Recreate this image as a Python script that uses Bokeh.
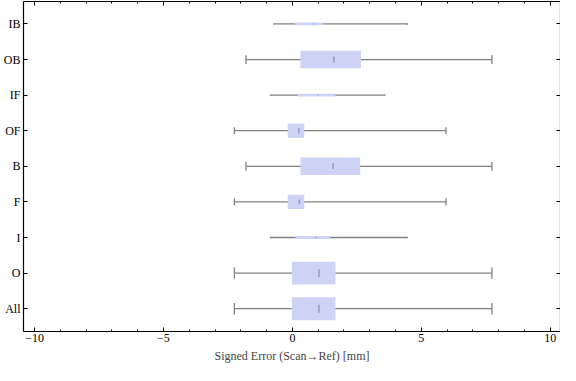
from bokeh.plotting import figure
from bokeh.models import Range1d, FixedTicker, LinearAxis, ColumnDataSource, CustomLabelingPolicy
from bokeh.embed import file_html
from bokeh.resources import INLINE

# ---- data (bottom to top) ----
categories = ["All", "O", "I", "F", "B", "OF", "IF", "OB", "IB"]
whisker_lo = [-2.25, -2.25, -0.85, -2.25, -1.80, -2.25, -0.85, -1.80, -0.71]
q1 =         [-0.02, -0.02, 0.12, -0.18, 0.31, -0.18, 0.20, 0.31, 0.10]
median =     [1.03, 1.03, 0.92, 0.27, 1.58, 0.25, 1.00, 1.61, 0.83]
q3 =         [1.67, 1.67, 1.47, 0.46, 2.63, 0.46, 1.67, 2.66, 1.20]
whisker_hi = [7.74, 7.74, 4.45, 5.96, 7.74, 5.96, 3.59, 7.74, 4.46]
box_width =  [0.65, 0.64, 0.08, 0.40, 0.49, 0.40, 0.08, 0.49, 0.08]
x_ticks = [-10, -5, 0, 5, 10]
x_tick_labels = ["\u221210", "\u22125", "0", "5", "10"]

ypos = list(range(1, len(categories) + 1))
src = ColumnDataSource(dict(
    y=ypos,
    lo=whisker_lo, q1=q1, med=median, q3=q3, hi=whisker_hi, w=box_width,
    mid=[(a + b) / 2 for a, b in zip(q1, q3)],
    bw=[b - a for a, b in zip(q1, q3)],
    cap_top=[y + w / 4 for y, w in zip(ypos, box_width)],
    cap_bot=[y - w / 4 for y, w in zip(ypos, box_width)],
    med_top=[y + w * 0.17 for y, w in zip(ypos, box_width)],
    med_bot=[y - w * 0.17 for y, w in zip(ypos, box_width)],
))

FONT = "Liberation Serif"

p = figure(width=560, height=365, output_backend="svg", toolbar_location=None,
           x_range=Range1d(-10.43, 10.4), y_range=Range1d(0.36, 9.63),
           min_border_left=1, min_border_right=0, min_border_top=1, min_border_bottom=0)

p.grid.visible = False
p.outline_line_color = None
p.background_fill_color = "white"
p.border_fill_color = "white"

# whiskers
wc = "#808080"
p.segment(x0="lo", y0="y", x1="hi", y1="y", source=src, line_color=wc, line_width=1.3)
p.segment(x0="lo", y0="cap_bot", x1="lo", y1="cap_top", source=src, line_color=wc, line_width=1.3)
p.segment(x0="hi", y0="cap_bot", x1="hi", y1="cap_top", source=src, line_color=wc, line_width=1.3)
# boxes
p.rect(x="mid", y="y", width="bw", height="w", source=src,
       fill_color="#cdd3f5", line_color=None)
# medians
p.segment(x0="med", y0="med_bot", x1="med", y1="med_top", source=src,
          line_color="#9a9ec4", line_width=1.6)

hide_policy = CustomLabelingPolicy(code="""
const all = Array.from(indices);
for (const i of all) {
  if (indices.unset) { indices.unset(i) } else { indices.set(i, false) }
}
return indices
""")

def style(ax, labels=True):
    ax.axis_line_color = "black"
    ax.axis_line_width = 1.2
    ax.major_tick_line_color = "black"
    ax.minor_tick_line_color = "black"
    ax.major_tick_in = 4
    ax.major_tick_out = 0
    ax.minor_tick_in = 2
    ax.minor_tick_out = 0
    ax.major_label_text_font = FONT
    ax.major_label_text_font_size = "12px"
    ax.major_label_text_color = "black"
    if not labels:
        ax.major_label_policy = hide_policy
        ax.major_label_text_font_size = "0px"
        ax.major_label_standoff = 0
        ax.axis_label_standoff = 0

xt = FixedTicker(ticks=x_ticks, minor_ticks=list(range(-10, 11)))
yt = FixedTicker(ticks=ypos)

xa = p.xaxis[0]
xa.ticker = xt
xa.major_label_overrides = {t: l for t, l in zip(x_ticks, x_tick_labels)}
style(xa)
xa.major_label_standoff = 2
xa.axis_label = "Signed Error (Scan\u2192Ref) [mm]"
xa.axis_label_text_font = FONT
xa.axis_label_text_font_size = "12px"
xa.axis_label_text_font_style = "normal"
xa.axis_label_standoff = 4

ya = p.yaxis[0]
ya.ticker = yt
ya.major_label_overrides = {y: c for y, c in zip(ypos, categories)}
style(ya)
ya.major_label_standoff = 3

top = LinearAxis(ticker=FixedTicker(ticks=x_ticks, minor_ticks=list(range(-10, 11))))
style(top, labels=False)
p.add_layout(top, "above")
right = LinearAxis(ticker=FixedTicker(ticks=ypos))
style(right, labels=False)
p.add_layout(right, "right")

open("out.html", "w").write(file_html(p, INLINE))
